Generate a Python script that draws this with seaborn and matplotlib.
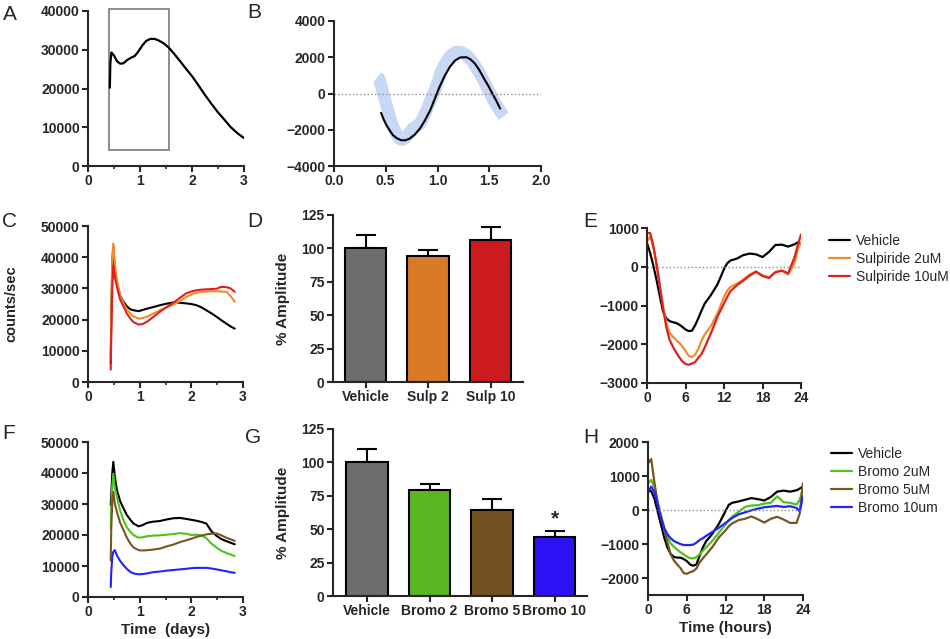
import matplotlib
matplotlib.use("Agg")
import matplotlib.pyplot as plt
import pandas as pd
import seaborn as sns
from matplotlib.patches import Rectangle
from matplotlib.ticker import MultipleLocator

# ---------------- data ----------------
a_days = [0.42, 0.43, 0.45, 0.50, 0.56, 0.62, 0.68, 0.75, 0.82, 0.90, 0.97, 1.05, 1.12, 1.20, 1.28,
          1.36, 1.45, 1.55, 1.66, 1.78, 1.89, 2.00, 2.12, 2.23, 2.36, 2.49, 2.62, 2.74, 2.87, 3.00]
a_counts = [20200, 26500, 29300, 28500, 27000, 26400, 26500, 27300, 27900, 28400, 29600, 31200, 32300,
            32800, 32800, 32400, 31700, 30600, 28900, 26900, 25000, 23200, 20900, 18700, 16300, 14000,
            12000, 10100, 8500, 7200]
box_days = [0.41, 1.555]
box_counts = [4200, 40400]

b_fit_days = [0.455, 0.48, 0.507, 0.54, 0.57, 0.61, 0.65, 0.69, 0.73, 0.78, 0.83, 0.88, 0.93, 0.975,
              1.02, 1.07, 1.12, 1.17, 1.22, 1.28, 1.32, 1.36, 1.40, 1.44, 1.49, 1.53, 1.57, 1.605]
b_fit = [-1070, -1430, -1750, -2050, -2300, -2480, -2580, -2580, -2490, -2270, -1935, -1470, -920, -280,
         370, 980, 1475, 1820, 1990, 2000, 1880, 1660, 1330, 920, 430, 0, -420, -830]
b_raw_days = [0.42, 0.436, 0.455, 0.475, 0.50, 0.52, 0.545, 0.57, 0.60, 0.63, 0.66, 0.70, 0.73, 0.76,
              0.80, 0.83, 0.86, 0.895, 0.935, 0.976, 1.01, 1.04, 1.08, 1.12, 1.15, 1.186, 1.23, 1.28,
              1.33, 1.38, 1.42, 1.46, 1.50, 1.54, 1.58, 1.62, 1.64]
b_raw = [900, 830, 450, 0, -500, -920, -1400, -1840, -2200, -2490, -2550, -2400, -2150, -1935, -1800,
         -1660, -1350, -920, -350, 185, 760, 1290, 1700, 2030, 2200, 2300, 2280, 2120, 1800, 1380, 980,
         550, 100, -370, -750, -1100, -1250]

c_days = [0.44, 0.45, 0.47, 0.49, 0.52, 0.56, 0.62, 0.69, 0.75, 0.82, 0.88, 0.98, 1.06, 1.14, 1.26,
          1.39, 1.52, 1.65, 1.78, 1.90, 2.00, 2.10, 2.20, 2.29, 2.39, 2.49, 2.58, 2.68, 2.76, 2.84]
c_vehicle = [5900, 20000, 38000, 43500, 36000, 31600, 27800, 25700, 24300, 23300, 23000, 22700, 23100,
             23500, 24000, 24600, 25100, 25500, 25400, 25200, 25000, 24600, 23900, 23000, 22000, 20900,
             19800, 18700, 17800, 17100]
c_sulp2 = [8000, 23000, 40000, 44400, 38000, 32700, 28000, 25200, 23300, 21900, 21000, 20300, 20500,
           20900, 21900, 23000, 23900, 24800, 26000, 27300, 28000, 28600, 28900, 29000, 29100, 29100,
           29000, 28900, 27500, 25700]
c_sulp10 = [4000, 15000, 30000, 37500, 33500, 30500, 26500, 24100, 22000, 20300, 19200, 18400, 18600,
            19300, 20800, 22500, 24000, 25400, 27000, 28400, 29000, 29400, 29600, 29700, 29800, 29900,
            30500, 30400, 30000, 28900]

d_groups = ["Vehicle", "Sulp 2", "Sulp 10"]
d_amp = [100, 94.3, 106.3]
d_sem = [10, 4.5, 10]

e_hours = [0, 0.5, 1, 1.5, 2, 2.5, 3, 3.5, 4, 4.5, 5, 5.5, 6, 6.5, 7, 7.5, 8, 8.5, 9, 10, 11, 12,
           12.5, 13, 14, 15, 16, 17, 18, 19, 20, 21, 22, 23, 23.5, 24]
e_vehicle = [610, 350, 20, -350, -760, -1150, -1330, -1400, -1430, -1450, -1490, -1550, -1620, -1660,
             -1650, -1510, -1330, -1130, -950, -720, -450, -60, 90, 160, 210, 300, 340, 320, 250, 380,
             560, 570, 520, 580, 630, 610]
e_sulp2 = [650, 780, 530, 50, -500, -1000, -1450, -1700, -1800, -1880, -1960, -2050, -2170, -2300,
           -2330, -2270, -2120, -1900, -1750, -1520, -1200, -780, -620, -520, -440, -330, -200, -120,
           -220, -280, -150, -100, -200, 100, 450, 620]
e_sulp10 = [870, 870, 520, 50, -500, -1080, -1550, -1880, -2050, -2200, -2330, -2440, -2510, -2530,
            -2500, -2460, -2350, -2250, -2080, -1700, -1280, -950, -780, -630, -480, -360, -230, -130,
            -240, -290, -140, -100, -170, 250, 560, 830]

f_days = c_days
f_vehicle = [29600, 33000, 40000, 43600, 38700, 34500, 31000, 28500, 26500, 24900, 23700, 22800, 23200,
             23900, 24300, 24500, 25000, 25400, 25500, 25200, 24900, 24600, 24200, 23700, 21200, 19700,
             18700, 18000, 17500, 17000]
f_bromo2 = [22000, 28000, 36000, 39800, 35000, 32300, 28000, 24700, 22500, 21000, 20000, 19100, 19300,
            19600, 19800, 19900, 20100, 20300, 20600, 20400, 20000, 20100, 19900, 19000, 17200, 15900,
            14900, 14200, 13700, 13200]
f_bromo5 = [11800, 22000, 31000, 33900, 30000, 27500, 24000, 21500, 19200, 17200, 16000, 15100, 15000,
            15100, 15300, 15600, 16300, 16900, 17700, 18300, 18800, 19400, 19800, 20200, 20400, 20500,
            19900, 19100, 18600, 18100]
f_bromo10 = [3200, 8000, 13000, 14600, 15100, 13400, 11700, 10200, 9100, 8100, 7600, 7300, 7400, 7600,
             8000, 8200, 8500, 8700, 8900, 9100, 9300, 9400, 9400, 9400, 9200, 8900, 8600, 8300, 8000,
             7800]

g_groups = ["Vehicle", "Bromo 2", "Bromo 5", "Bromo 10"]
g_amp = [100, 79.3, 64.4, 44.2]
g_sem = [10, 4.5, 8.2, 4.7]
g_star_y = 58

h_hours = e_hours
h_vehicle = [600, 550, 330, -50, -420, -800, -1100, -1290, -1380, -1400, -1400, -1440, -1500, -1600,
             -1640, -1600, -1340, -1100, -920, -690, -400, -30, 150, 210, 250, 300, 350, 320, 280, 380,
             540, 570, 540, 580, 630, 690]
h_bromo2 = [790, 885, 680, 240, -150, -500, -800, -980, -1080, -1160, -1240, -1300, -1370, -1420, -1420,
            -1390, -1300, -1200, -1100, -900, -660, -430, -300, -200, -60, 90, 130, 140, 190, 210, 400,
            230, 210, 160, 300, 650]
h_bromo5 = [1370, 1500, 800, 200, -180, -560, -950, -1300, -1480, -1600, -1700, -1850, -1880, -1830,
            -1800, -1720, -1540, -1420, -1310, -1080, -800, -600, -480, -400, -300, -260, -190, -270,
            -370, -260, -200, -280, -380, -380, -100, 790]
h_bromo10 = [500, 690, 520, 150, -240, -530, -710, -830, -910, -960, -1000, -1030, -1030, -1030, -1020,
             -960, -880, -830, -760, -640, -520, -380, -310, -240, -130, -70, -10, 40, 80, 100, 120, 90,
             110, 60, -40, 400]

sulp_labels = ["Vehicle", "Sulpiride 2uM", "Sulpiride 10uM"]
bromo_labels = ["Vehicle", "Bromo 2uM", "Bromo 5uM", "Bromo 10um"]
sulp_colors = ["#000000", "#f08c2a", "#e02020"]
bromo_colors = ["#000000", "#4cc41c", "#7a5424", "#2222ff"]
d_bar_colors = ["#6d6d6d", "#db7a26", "#cc1b1e"]
g_bar_colors = ["#6d6d6d", "#5cb623", "#735222", "#2c12f4"]


def long_frame(x, series, labels):
    parts = [pd.DataFrame({"x": x, "y": s, "group": lab}) for s, lab in zip(series, labels)]
    return pd.concat(parts, ignore_index=True)


def style_axis(ax):
    sns.despine(ax=ax)
    for side in ("left", "bottom"):
        ax.spines[side].set_linewidth(1.5)
    ax.tick_params(width=1.5, length=4, labelsize=10, pad=2)
    ax.tick_params(which="minor", width=1.2, length=2.5)
    for lab in ax.get_xticklabels() + ax.get_yticklabels():
        lab.set_fontweight("bold")
    ax.xaxis.label.set_fontweight("bold")
    ax.yaxis.label.set_fontweight("bold")


def place_legend(ax, top):
    sns.move_legend(ax, "upper left", bbox_to_anchor=(1.1, top), frameon=False, title=None,
                    prop={"weight": "normal", "size": 10}, handlelength=1.5, handletextpad=0.45,
                    labelspacing=0.3)


sns.set_style("ticks")
plt.rcParams["font.family"] = ["Liberation Sans", "DejaVu Sans"]
plt.rcParams["font.weight"] = "bold"
plt.rcParams["axes.labelweight"] = "bold"

fig = plt.figure(figsize=(9.5, 6.39), dpi=100)
W, H = 950, 639


def add_ax(x0, y0, x1, y1):
    return fig.add_axes([x0 / W, (H - y1) / H, (x1 - x0) / W, (y1 - y0) / H])


# A
ax = add_ax(88, 11, 244, 166)
sns.lineplot(x=a_days, y=a_counts, color="black", lw=1.6, sort=False, estimator=None, ax=ax)
ax.add_patch(Rectangle((box_days[0], box_counts[0]), box_days[1] - box_days[0],
                       box_counts[1] - box_counts[0], fill=False, edgecolor="#8c8c8c", lw=1.4,
                       clip_on=False))
ax.set(xlim=(0, 3), ylim=(0, 40000), xticks=[0, 1, 2, 3], yticks=range(0, 40001, 10000))
ax.xaxis.set_minor_locator(MultipleLocator(0.5))
style_axis(ax)

# B
ax = add_ax(334, 21, 541, 166)
sns.lineplot(x=b_raw_days, y=b_raw, color="#c8d7f3", lw=9, sort=False, estimator=None,
             solid_capstyle="butt", ax=ax)
sns.lineplot(x=b_fit_days, y=b_fit, color="black", lw=1.5, sort=False, estimator=None, ax=ax)
ax.axhline(0, color="#8a8a8a", ls=":", lw=1)
ax.set(xlim=(0, 2), ylim=(-4000, 4000), xticks=[0, 0.5, 1, 1.5, 2],
       yticks=[-4000, -2000, 0, 2000, 4000])
ax.set_xticklabels(["0.0", "0.5", "1.0", "1.5", "2.0"])
style_axis(ax)

# C
ax = add_ax(88, 226, 243, 382)
dfc = long_frame(c_days, [c_vehicle, c_sulp2, c_sulp10], sulp_labels)
sns.lineplot(data=dfc, x="x", y="y", hue="group", palette=sulp_colors, lw=1.5, sort=False,
             estimator=None, legend=False, ax=ax)
ax.set(xlim=(0, 3), ylim=(0, 50000), xticks=[0, 1, 2, 3], yticks=range(0, 50001, 10000))
ax.xaxis.set_minor_locator(MultipleLocator(0.5))
ax.set_xlabel("")
ax.set_ylabel("counts/sec", fontsize=10.5)
ax.yaxis.set_label_coords(-0.45, 0.5)
style_axis(ax)

# D
ax = add_ax(333, 215, 523, 382)
sns.barplot(x=d_groups, y=d_amp, hue=d_groups, palette=d_bar_colors, legend=False, errorbar=None,
            width=0.66, saturation=1, edgecolor="black", linewidth=1.5, ax=ax)
ax.errorbar(range(len(d_groups)), d_amp, yerr=[[0] * len(d_sem), d_sem], fmt="none",
            ecolor="black", elinewidth=1.5, capsize=7, capthick=1.5, zorder=0)
ax.set(xlim=(-0.52, 2.52), ylim=(0, 125), yticks=range(0, 126, 25))
ax.set_ylabel("% Amplitude", fontsize=11)
ax.yaxis.set_label_coords(-0.226, 0.5)
style_axis(ax)

# E
ax = add_ax(647, 228, 801, 383)
dfe = long_frame(e_hours, [e_vehicle, e_sulp2, e_sulp10], sulp_labels)
sns.lineplot(data=dfe, x="x", y="y", hue="group", palette=sulp_colors, lw=1.6, sort=False,
             estimator=None, ax=ax)
ax.axhline(0, color="#8a8a8a", ls=":", lw=1)
ax.set(xlim=(0, 24), ylim=(-3000, 1000), xticks=range(0, 25, 6), yticks=range(-3000, 1001, 1000))
ax.set_xlabel("")
ax.set_ylabel("")
style_axis(ax)
place_legend(ax, 1.045)

# F
ax = add_ax(88, 442, 243, 597)
dff = long_frame(f_days, [f_vehicle, f_bromo2, f_bromo5, f_bromo10], bromo_labels)
sns.lineplot(data=dff, x="x", y="y", hue="group", palette=bromo_colors, lw=1.5, sort=False,
             estimator=None, legend=False, ax=ax)
ax.set(xlim=(0, 3), ylim=(0, 50000), xticks=[0, 1, 2, 3], yticks=range(0, 50001, 10000))
ax.xaxis.set_minor_locator(MultipleLocator(0.5))
ax.set_ylabel("")
ax.set_xlabel("Time  (days)", fontsize=11)
ax.xaxis.set_label_coords(0.5, -0.17)
style_axis(ax)

# G
ax = add_ax(333, 429, 587, 596)
sns.barplot(x=g_groups, y=g_amp, hue=g_groups, palette=g_bar_colors, legend=False, errorbar=None,
            width=0.66, saturation=1, edgecolor="black", linewidth=1.5, ax=ax)
ax.errorbar(range(len(g_groups)), g_amp, yerr=[[0] * len(g_sem), g_sem], fmt="none",
            ecolor="black", elinewidth=1.5, capsize=7, capthick=1.5, zorder=0)
ax.text(3, g_star_y, "*", ha="center", va="center", fontsize=15, fontweight="bold")
ax.set(xlim=(-0.544, 3.52), ylim=(0, 125), yticks=range(0, 126, 25))
ax.set_ylabel("% Amplitude", fontsize=11)
ax.yaxis.set_label_coords(-0.17, 0.5)
style_axis(ax)

# H
ax = add_ax(648, 442, 803, 595)
dfh = long_frame(h_hours, [h_vehicle, h_bromo2, h_bromo5, h_bromo10], bromo_labels)
sns.lineplot(data=dfh, x="x", y="y", hue="group", palette=bromo_colors, lw=1.6, sort=False,
             estimator=None, ax=ax)
ax.axhline(0, color="#8a8a8a", ls=":", lw=1)
ax.set(xlim=(0, 24), ylim=(-2500, 2000), xticks=range(0, 25, 6), yticks=range(-2000, 2001, 1000))
ax.set_ylabel("")
ax.set_xlabel("Time (hours)", fontsize=11)
ax.xaxis.set_label_coords(0.5, -0.17)
style_axis(ax)
place_legend(ax, 1.05)

# panel letters
for letter, (px, py) in {"A": (3, 5), "B": (247, 3), "C": (2, 212), "D": (247, 212),
                         "E": (583, 212), "F": (2, 424), "G": (245, 428), "H": (583, 428)}.items():
    fig.text(px / W, 1 - py / H, letter, fontsize=15, fontweight="normal", va="top", ha="left")

fig.savefig("out.png", dpi=100)
